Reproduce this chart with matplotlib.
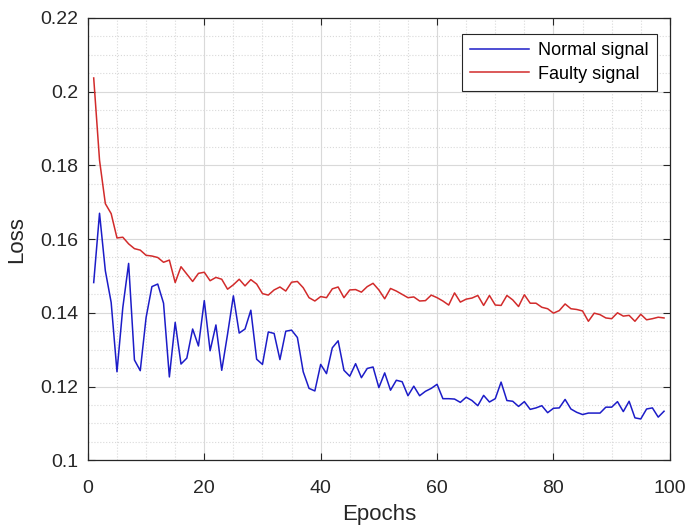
import numpy as np
import matplotlib
matplotlib.use('Agg')
import matplotlib.pyplot as plt
from matplotlib.ticker import MultipleLocator

plt.rcParams['font.family'] = ['Liberation Sans', 'DejaVu Sans']

epochs = np.arange(1, 100)

# Normal signal loss
normal_loss = [
    0.1482, 0.1670, 0.1514, 0.1428, 0.1240, 0.1414, 0.1534, 0.1272, 0.1243, 0.1387,
    0.1471, 0.1478, 0.1426, 0.1226, 0.1374, 0.1261, 0.1277, 0.1356, 0.1310, 0.1433,
    0.1297, 0.1367, 0.1244, 0.1342, 0.1446, 0.1345, 0.1356, 0.1407, 0.1274, 0.1260,
    0.1348, 0.1344, 0.1273, 0.1350, 0.1353, 0.1333, 0.1240, 0.1195, 0.1188, 0.1260,
    0.1235, 0.1305, 0.1324, 0.1244, 0.1228, 0.1262, 0.1224, 0.1249, 0.1253, 0.1197,
    0.1237, 0.1190, 0.1217, 0.1213, 0.1175, 0.1201, 0.1175, 0.1187, 0.1195, 0.1206,
    0.1167, 0.1167, 0.1166, 0.1157, 0.1171, 0.1162, 0.1148, 0.1176, 0.1158, 0.1167,
    0.1212, 0.1162, 0.1160, 0.1146, 0.1159, 0.1138, 0.1142, 0.1148, 0.1129, 0.1141,
    0.1142, 0.1165, 0.1139, 0.1130, 0.1124, 0.1128, 0.1128, 0.1128, 0.1144, 0.1144,
    0.1159, 0.1132, 0.1160, 0.1115, 0.1112, 0.1139, 0.1142, 0.1117, 0.1133,
]

# Faulty signal loss
faulty_loss = [
    0.2037, 0.1814, 0.1696, 0.1669, 0.1603, 0.1605, 0.1587, 0.1574, 0.1570, 0.1556,
    0.1554, 0.1550, 0.1537, 0.1543, 0.1482, 0.1525, 0.1505, 0.1485, 0.1507, 0.1510,
    0.1487, 0.1496, 0.1491, 0.1464, 0.1476, 0.1491, 0.1473, 0.1490, 0.1478, 0.1452,
    0.1448, 0.1462, 0.1470, 0.1459, 0.1483, 0.1485, 0.1468, 0.1441, 0.1432, 0.1444,
    0.1441, 0.1465, 0.1470, 0.1441, 0.1462, 0.1463, 0.1456, 0.1471, 0.1480, 0.1462,
    0.1438, 0.1466, 0.1459, 0.1450, 0.1441, 0.1443, 0.1432, 0.1433, 0.1448, 0.1441,
    0.1432, 0.1421, 0.1454, 0.1429, 0.1437, 0.1440, 0.1447, 0.1420, 0.1447, 0.1421,
    0.1420, 0.1447, 0.1435, 0.1417, 0.1449, 0.1426, 0.1426, 0.1415, 0.1411, 0.1399,
    0.1406, 0.1424, 0.1411, 0.1409, 0.1405, 0.1377, 0.1399, 0.1395, 0.1386, 0.1384,
    0.1400, 0.1391, 0.1393, 0.1377, 0.1396, 0.1381, 0.1384, 0.1388, 0.1386,
]

fig = plt.figure(figsize=(6.92, 5.26), dpi=100)
ax = fig.add_axes([0.127, 0.125, 0.841, 0.841])

ax.plot(epochs, normal_loss, color='#1c1cc8', linewidth=1.1, label='Normal signal')
ax.plot(epochs, faulty_loss, color='#d22b2b', linewidth=1.1, label='Faulty signal')

ax.set_xlim(0, 100)
ax.set_ylim(0.1, 0.22)
ax.set_xticks([0, 20, 40, 60, 80, 100])
ax.set_yticks([0.1, 0.12, 0.14, 0.16, 0.18, 0.2, 0.22])
ax.set_yticklabels(['0.1', '0.12', '0.14', '0.16', '0.18', '0.2', '0.22'])
ax.xaxis.set_minor_locator(MultipleLocator(5))
ax.yaxis.set_minor_locator(MultipleLocator(0.005))

ax.grid(True, which='major', color='#d9d9d9', linestyle='-', linewidth=0.8)
ax.grid(True, which='minor', color='#d9d9d9', linestyle=':', linewidth=0.8)
ax.set_axisbelow(True)

ax.tick_params(which='major', direction='in', top=True, right=True, length=5,
               labelsize=14, colors='#262626')
ax.tick_params(axis='x', which='major', pad=14)
ax.tick_params(axis='y', which='major', pad=7)
ax.tick_params(which='minor', length=0)
for s in ax.spines.values():
    s.set_color('#262626')
    s.set_linewidth(0.9)

ax.set_xlabel('Epochs', fontsize=16, color='#262626', labelpad=5)
ax.set_ylabel('Loss', fontsize=16, color='#262626', labelpad=9)

leg = ax.legend(loc='upper right', fontsize=13, fancybox=False, framealpha=1,
                edgecolor='#262626', handlelength=3.3, handletextpad=0.5,
                labelspacing=0.35, borderpad=0.45, borderaxespad=0,
                bbox_to_anchor=(0.978, 0.963))
leg.get_frame().set_linewidth(0.8)

plt.savefig('out.png', dpi=100)
